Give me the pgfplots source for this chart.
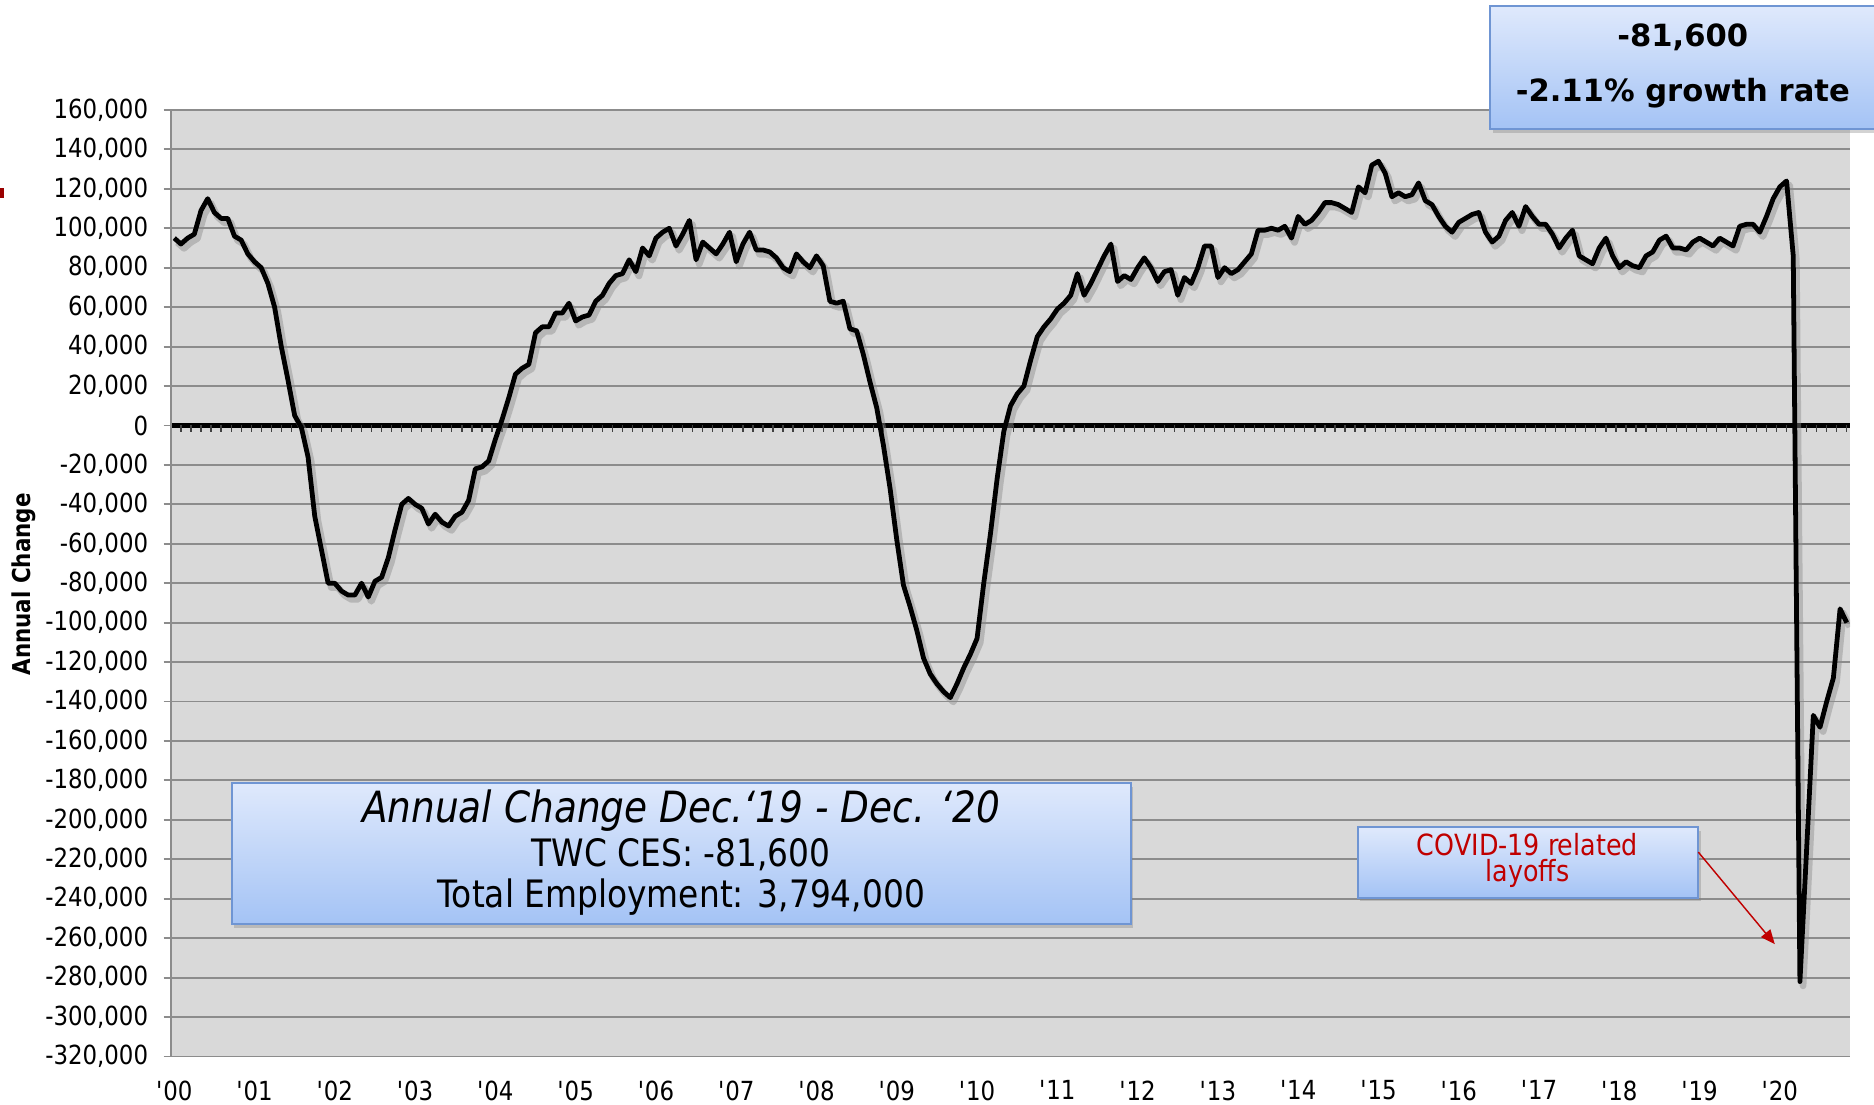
\documentclass[border=0pt]{standalone}
\usepackage{pgfplots}
\pgfplotsset{compat=1.18}
\usepackage{pgfplotstable}
\usepackage{fontspec}
\setmainfont{DejaVu Sans}[FakeStretch=0.87]
\newfontfamily\boxfont{DejaVu Sans}
\usetikzlibrary{shadows,arrows.meta}
\definecolor{plotbg}{HTML}{D9D9D9}
\definecolor{gridc}{HTML}{8C8C8C}
\definecolor{boxtop}{HTML}{DFE9FC}
\definecolor{boxbot}{HTML}{A4C3F5}
\definecolor{boxedge}{HTML}{6F95D3}
\definecolor{covidred}{HTML}{C00000}

\pgfplotstableread{
m v
0 95000
1 92000
2 95000
3 97000
4 109000
5 115000
6 108000
7 105000
8 105000
9 96000
10 94000
11 87000
12 83000
13 80000
14 72000
15 60000
16 40000
17 23000
18 5000
19 -1000
20 -16000
21 -46000
22 -63000
23 -80000
24 -80000
25 -84000
26 -86000
27 -86000
28 -80000
29 -87000
30 -79000
31 -77000
32 -67000
33 -53000
34 -40000
35 -37000
36 -40000
37 -42000
38 -50000
39 -45000
40 -49000
41 -51000
42 -46000
43 -44000
44 -38000
45 -22000
46 -21000
47 -18000
48 -7000
49 3000
50 14000
51 26000
52 29000
53 31000
54 47000
55 50000
56 50000
57 57000
58 57000
59 62000
60 53000
61 55000
62 56000
63 63000
64 66000
65 72000
66 76000
67 77000
68 84000
69 78000
70 90000
71 86000
72 95000
73 98000
74 100000
75 91000
76 97000
77 104000
78 84000
79 93000
80 90000
81 87000
82 92000
83 98000
84 83000
85 92000
86 98000
87 89000
88 89000
89 88000
90 85000
91 80000
92 78000
93 87000
94 83000
95 80000
96 86000
97 81000
98 63000
99 62000
100 63000
101 49000
102 48000
103 36000
104 22000
105 9000
106 -10000
107 -32000
108 -58000
109 -81000
110 -92000
111 -104000
112 -118000
113 -126000
114 -131000
115 -135000
116 -138000
117 -131000
118 -123000
119 -116000
120 -108000
121 -80000
122 -55000
123 -27000
124 -3000
125 10000
126 16000
127 20000
128 33000
129 45000
130 50000
131 54000
132 59000
133 62000
134 66000
135 77000
136 66000
137 72000
138 79000
139 86000
140 92000
141 73000
142 76000
143 74000
144 80000
145 85000
146 80000
147 73000
148 78000
149 79000
150 66000
151 75000
152 72000
153 80000
154 91000
155 91000
156 75000
157 80000
158 77000
159 79000
160 83000
161 87000
162 99000
163 99000
164 100000
165 99000
166 101000
167 95000
168 106000
169 102000
170 104000
171 108000
172 113000
173 113000
174 112000
175 110000
176 108000
177 121000
178 118000
179 132000
180 134000
181 128000
182 116000
183 118000
184 116000
185 117000
186 123000
187 114000
188 112000
189 106000
190 101000
191 98000
192 103000
193 105000
194 107000
195 108000
196 98000
197 93000
198 96000
199 104000
200 108000
201 101000
202 111000
203 106000
204 102000
205 102000
206 97000
207 90000
208 95000
209 99000
210 86000
211 84000
212 82000
213 90000
214 95000
215 86000
216 80000
217 83000
218 81000
219 80000
220 86000
221 88000
222 94000
223 96000
224 90000
225 90000
226 89000
227 93000
228 95000
229 93000
230 91000
231 95000
232 93000
233 91000
234 101000
235 102000
236 102000
237 98000
238 106000
239 115000
240 121000
241 124000
242 86000
243 -282000
244 -215000
245 -147000
246 -153000
247 -140000
248 -128000
249 -93000
250 -100000
}\datatable

\begin{document}
\begin{tikzpicture}
\begin{axis}[
  at={(0,0)}, anchor=south west, scale only axis,
  width=702.5pt, height=396pt,
  xmin=-0.5, xmax=250.5, ymin=-320000, ymax=160000,
  axis background/.style={fill=plotbg},
  axis x line*=bottom, axis y line*=left,
  axis line style={gridc, line width=0.8pt, -},
  scaled y ticks=false,
  ytick={-320000,-300000,-280000,-260000,-240000,-220000,-200000,-180000,-160000,-140000,-120000,-100000,-80000,-60000,-40000,-20000,0,20000,40000,60000,80000,100000,120000,140000,160000},
  yticklabels={{-320,000},{-300,000},{-280,000},{-260,000},{-240,000},{-220,000},{-200,000},{-180,000},{-160,000},{-140,000},{-120,000},{-100,000},{-80,000},{-60,000},{-40,000},{-20,000},{0},{20,000},{40,000},{60,000},{80,000},{100,000},{120,000},{140,000},{160,000}},
  xtick={0,12,24,36,48,60,72,84,96,108,120,132,144,156,168,180,192,204,216,228,240},
  xticklabels={\textquotesingle00,\textquotesingle01,\textquotesingle02,\textquotesingle03,\textquotesingle04,\textquotesingle05,\textquotesingle06,\textquotesingle07,\textquotesingle08,\textquotesingle09,\textquotesingle10,\textquotesingle11,\textquotesingle12,\textquotesingle13,\textquotesingle14,\textquotesingle15,\textquotesingle16,\textquotesingle17,\textquotesingle18,\textquotesingle19,\textquotesingle20},
  tick align=outside,
  major tick length=3pt,
  ytick style={gridc, line width=0.8pt},
  xtick style={draw=none},
  ymajorgrids,
  major grid style={gridc, line width=0.8pt},
  yticklabel style={font=\fontsize{11}{11}\selectfont, xshift=-3pt},
  xticklabel style={font=\fontsize{11}{11}\selectfont, yshift=-3.6pt},
]
\draw[black, line width=2pt] (axis cs:-0.3,0) -- (axis cs:250.5,0);
\pgfplotsinvokeforeach{1,2.5,...,250}{\draw[black!75, line width=0.5pt] (axis cs:#1,0) -- (axis cs:#1,-3400);}
\addplot[black!45, opacity=0.45, line width=2.8pt, xshift=1.3pt, yshift=-1.8pt, line join=round] table[x=m,y=v]{\datatable};
\addplot[black, line width=2pt, line join=round] table[x=m,y=v]{\datatable};
\end{axis}

% y label
\node[rotate=90, font=\bfseries\fontsize{10.3}{12}\selectfont] at (-61.5pt,197.5pt) {Annual Change};
% red mark at left edge
\fill[covidred!80!black] (-71.5pt,359pt) rectangle (-70pt,363.5pt);

% top-right box
\path[top color=boxtop, bottom color=boxbot, draw=boxedge, line width=0.8pt,
  drop shadow={opacity=0.35, shadow xshift=1pt, shadow yshift=-1.6pt}]
  (552pt,388pt) rectangle (714pt,439.5pt);
\node[font=\boxfont\bfseries\fontsize{12.8}{14}\selectfont, anchor=base] at (632.5pt,422.5pt) {-81,600};
\node[font=\boxfont\bfseries\fontsize{12.8}{14}\selectfont, anchor=base] at (632.5pt,399.5pt) {-2.11\% growth rate};

% lower-left box
\path[top color=boxtop, bottom color=boxbot, draw=boxedge, line width=0.8pt,
  drop shadow={opacity=0.35, shadow xshift=1pt, shadow yshift=-1.6pt}]
  (25.5pt,55.5pt) rectangle (401.5pt,114.5pt);
\node[font=\itshape\fontsize{18}{20}\selectfont, anchor=base] at (213.5pt,98pt) {Annual Change Dec.‘19 - Dec. ‘20};
\node[font=\fontsize{15.8}{18}\selectfont, anchor=base] at (213.5pt,79.5pt) {TWC CES: -81,600};
\node[font=\fontsize{15.8}{18}\selectfont, anchor=base] at (213.5pt,62.5pt) {Total Employment: 3,794,000};

% COVID box
\path[top color=boxtop, bottom color=boxbot, draw=boxedge, line width=0.8pt,
  drop shadow={opacity=0.35, shadow xshift=1pt, shadow yshift=-1.6pt}]
  (496.5pt,66.5pt) rectangle (639pt,96pt);
\node[font=\fontsize{12.2}{10.8}\selectfont, text=covidred, align=center, anchor=north, inner sep=0pt] at (567.5pt,93.6pt) {COVID-19 related\\layoffs};
\draw[covidred, line width=0.6pt, -{Triangle[length=6pt,width=5pt]}] (639pt,85.5pt) -- (671pt,47pt);

\pgfresetboundingbox
\path[use as bounding box] (-71.5pt,-20pt) rectangle (712.5pt,442pt);
\end{tikzpicture}
\end{document}
